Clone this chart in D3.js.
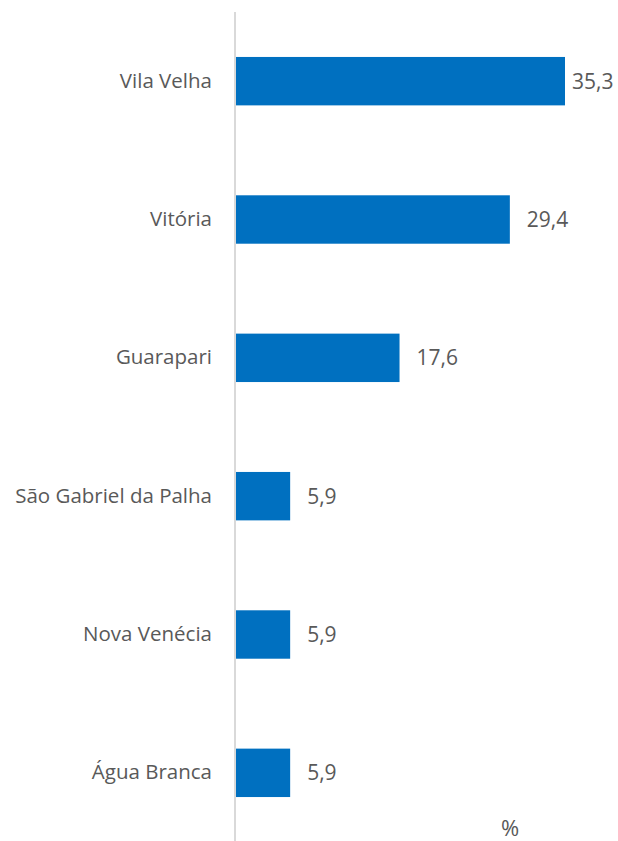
<!DOCTYPE html>
<html>
<head>
<meta charset="utf-8">
<script src="https://cdn.jsdelivr.net/npm/d3@7"></script>
<style>
  body { margin: 0; background: #fff; }
  text { font-family: "Open Sans", "Liberation Sans", sans-serif; fill: #595959; }
</style>
</head>
<body>
<div id="chart"></div>
<script>
var categories = ["Vila Velha", "Vitória", "Guarapari", "São Gabriel da Palha", "Nova Venécia", "Água Branca"];
var values = [35.3, 29.4, 17.6, 5.9, 5.9, 5.9];
var unitLabel = "%";

var width = 618, height = 841;
var x0 = 235;

var svg = d3.select("#chart").append("svg")
  .attr("width", width)
  .attr("height", height);

var x = d3.scaleLinear().domain([0, 35.3]).range([x0, 565]);
var y = d3.scaleBand().domain(categories).range([12, 842])
  .paddingInner(0.65).paddingOuter(0.325);

var data = categories.map(function (c, i) { return {name: c, value: values[i]}; });

svg.selectAll("rect.bar").data(data).enter().append("rect")
  .attr("class", "bar")
  .attr("x", x(0) + 1)
  .attr("y", function (d) { return y(d.name); })
  .attr("width", function (d) { return x(d.value) - x(0) - 1; })
  .attr("height", y.bandwidth())
  .attr("fill", "#0070C0");

// category axis
var yAxis = svg.append("g")
  .attr("transform", "translate(" + x0 + ",0)")
  .call(d3.axisLeft(y).tickSize(0).tickPadding(23));
yAxis.select(".domain").attr("stroke", "#d9d9d9").attr("stroke-width", 2)
  .attr("d", "M0,12V841");
yAxis.selectAll("text").style("font-size", "20.5px").attr("fill", "#595959")
  .style("font-family", "'Open Sans', sans-serif");

// value labels
var fmt = function (v) { return d3.format(".1f")(v).replace(".", ","); };
svg.selectAll("text.val").data(data).enter().append("text")
  .attr("class", "val")
  .attr("y", function (d) { return y(d.name) + y.bandwidth() / 2; })
  .attr("dy", "0.35em")
  .style("font-size", "21px")
  .text(function (d) { return fmt(d.value); })
  .attr("x", function (d) {
    var w = this.getComputedTextLength();
    return Math.max(x(d.value) + 7, Math.min(x(d.value) + 17, 611 - w));
  });

svg.append("text")
  .attr("x", 510)
  .attr("y", 836)
  .attr("text-anchor", "middle")
  .style("font-size", "22px")
  .text(unitLabel);
</script>
</body>
</html>
